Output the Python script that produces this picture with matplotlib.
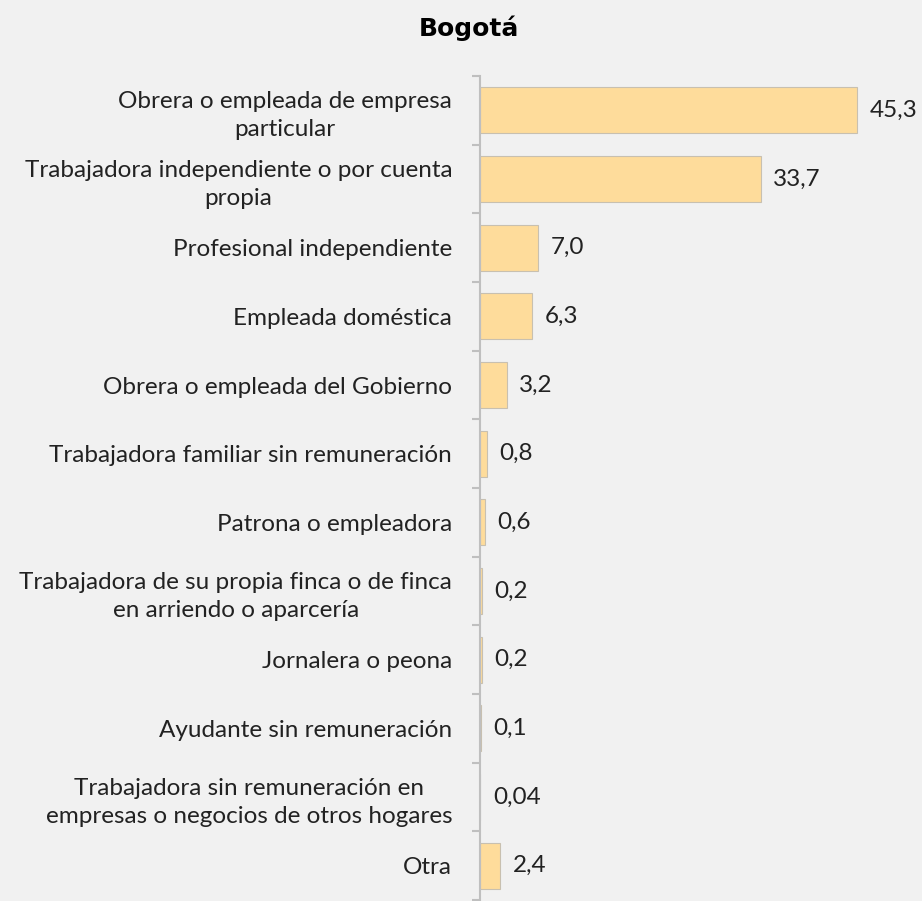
import matplotlib.pyplot as plt
import numpy as np

categorias = [
    "Obrera o empleada de empresa\nparticular",
    "Trabajadora independiente o por cuenta\npropia",
    "Profesional independiente",
    "Empleada doméstica",
    "Obrera o empleada del Gobierno",
    "Trabajadora familiar sin remuneración",
    "Patrona o empleadora",
    "Trabajadora de su propia finca o de finca\nen arriendo o aparcería",
    "Jornalera o peona",
    "Ayudante sin remuneración",
    "Trabajadora sin remuneración en\nempresas o negocios de otros hogares",
    "Otra",
]
valores = [45.3, 33.7, 7.0, 6.3, 3.2, 0.8, 0.6, 0.2, 0.2, 0.1, 0.04, 2.4]
etiquetas = ["45,3", "33,7", "7,0", "6,3", "3,2", "0,8", "0,6", "0,2", "0,2", "0,1", "0,04", "2,4"]

plt.rcParams['font.family'] = ['Lato', 'DejaVu Sans']
fondo = "#f1f1f1"

fig = plt.figure(figsize=(9.22, 9.01), dpi=100, facecolor=fondo)
ax = fig.add_axes([0.5206, 0.001, 0.4794, 0.9145])
ax.set_facecolor(fondo)

y = np.arange(len(categorias))
ax.barh(y, valores, height=0.67, color="#fedc9b", edgecolor="#c8c0b0", linewidth=0.8)

for yi, v, t in zip(y, valores, etiquetas):
    ax.annotate(t, (v, yi), xytext=(9, 0), textcoords="offset points",
                va="center", ha="left", fontsize=17.5, color="#222222")

ax.set_xlim(0, 53.1)
ax.set_ylim(len(categorias) - 0.5, -0.5)
ax.set_yticks(y)
ax.set_yticklabels(categorias, fontsize=17.5, color="#222222", ha="right",
                   multialignment="center", linespacing=1.4)
ax.tick_params(axis="y", which="major", length=0, pad=20)
ax.set_yticks(np.arange(len(categorias) + 1) - 0.5, minor=True)
ax.tick_params(axis="y", which="minor", length=6, color="#bfbfbf", width=1.5)
ax.set_xticks([])

for lado in ["top", "right", "bottom"]:
    ax.spines[lado].set_visible(False)
ax.spines["left"].set_color("#bfbfbf")
ax.spines["left"].set_linewidth(1.5)

fig.text(0.509, 0.969, "Bogotá", ha="center", va="center", fontsize=18,
         fontweight="bold", family="DejaVu Sans", color="#000000")

fig.savefig("out.png", dpi=100, facecolor=fondo)
